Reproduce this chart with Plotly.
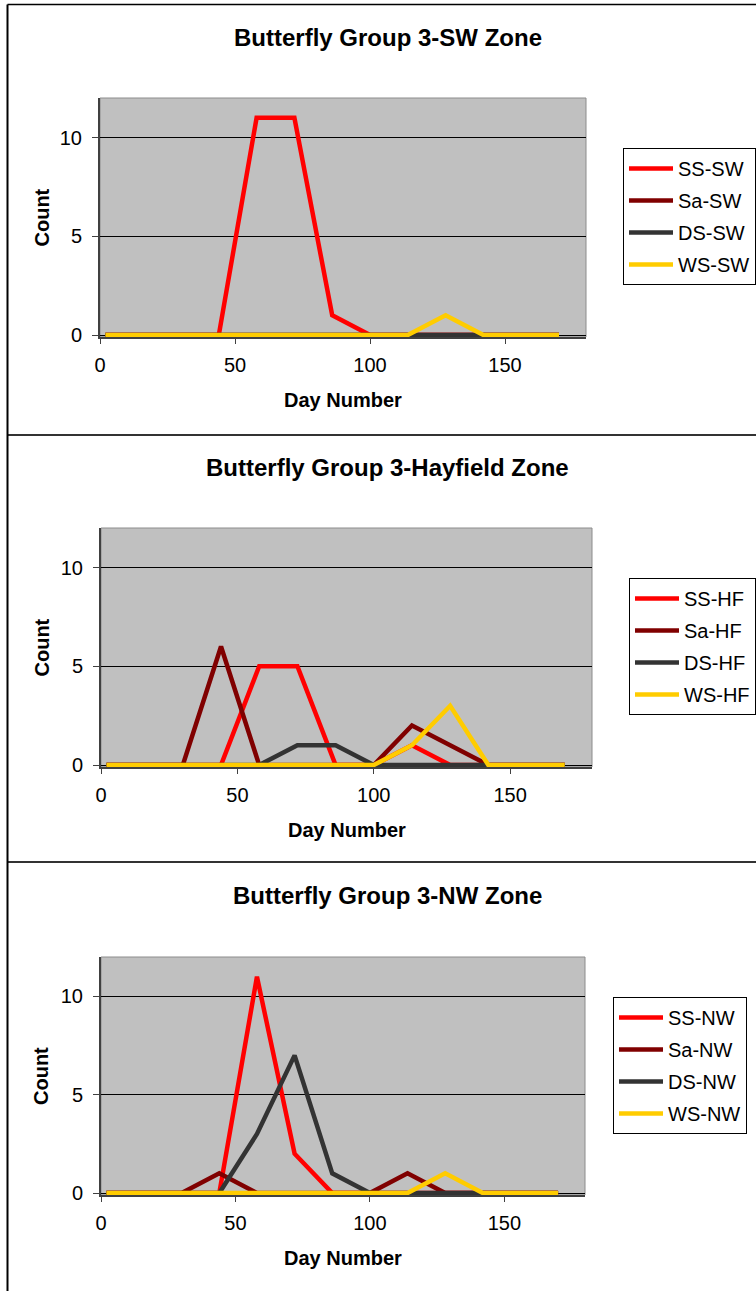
import plotly.graph_objects as go

W, H = 756, 1291

# survey day numbers
days = [2, 16, 30, 44, 58, 72, 86, 100, 114, 128, 142, 156, 170]

# SW zone
ss_sw = [0, 0, 0, 0, 11, 11, 1, 0, 0, 0, 0, 0, 0]
sa_sw = [0, 0, 0, 0, 0, 0, 0, 0, 0, 0, 0, 0, 0]
ds_sw = [0, 0, 0, 0, 0, 0, 0, 0, 0, 0, 0, 0, 0]
ws_sw = [0, 0, 0, 0, 0, 0, 0, 0, 0, 1, 0, 0, 0]

# Hayfield zone
ss_hf = [0, 0, 0, 0, 5, 5, 0, 0, 1, 0, 0, 0, 0]
sa_hf = [0, 0, 0, 6, 0, 0, 0, 0, 2, 1, 0, 0, 0]
ds_hf = [0, 0, 0, 0, 0, 1, 1, 0, 0, 0, 0, 0, 0]
ws_hf = [0, 0, 0, 0, 0, 0, 0, 0, 1, 3, 0, 0, 0]

# NW zone
ss_nw = [0, 0, 0, 0, 11, 2, 0, 0, 0, 0, 0, 0, 0]
sa_nw = [0, 0, 0, 1, 0, 0, 0, 0, 1, 0, 0, 0, 0]
ds_nw = [0, 0, 0, 0, 3, 7, 1, 0, 0, 0, 0, 0, 0]
ws_nw = [0, 0, 0, 0, 0, 0, 0, 0, 0, 1, 0, 0, 0]

titles = ['Butterfly Group 3-SW Zone', 'Butterfly Group 3-Hayfield Zone', 'Butterfly Group 3-NW Zone']
suffixes = ['SW', 'HF', 'NW']
prefixes = ['SS', 'Sa', 'DS', 'WS']
colors = ['#FF0000', '#800000', '#333333', '#FFCC00']
panels = [
    [ss_sw, sa_sw, ds_sw, ws_sw],
    [ss_hf, sa_hf, ds_hf, ws_hf],
    [ss_nw, sa_nw, ds_nw, ws_nw],
]

FONT = 'Liberation Sans, Arial, sans-serif'

# pixel layout of each panel (bottom sits a touch below the zero line so
# the lines along zero are not clipped by the plot area)
plot_lefts = [100, 101, 101]
plot_rights = [586, 592, 585]
plot_tops = [98, 528, 957]
plot_bottoms = [337, 767, 1195]
title_ys = [38, 467, 895]
legend_lefts = [623, 629, 613]
legend_tops = [148, 578, 997]


def px(x):
    return x / W


def py(y):
    return 1 - y / H


fig = go.Figure()

for i, (series, suf) in enumerate(zip(panels, suffixes)):
    n = '' if i == 0 else str(i + 1)
    for pre, vals, col in zip(prefixes, series, colors):
        fig.add_trace(
            go.Scatter(
                x=days, y=vals,
                mode='lines',
                line=dict(color=col, width=4.5),
                name=f'{pre}-{suf}',
                legendgroup=f'{pre}-{suf}',
                legend=f'legend{n}',
                xaxis=f'x{n}', yaxis=f'y{n}',
                cliponaxis=False,
            )
        )

layout = dict(
    width=W, height=H,
    margin=dict(l=0, r=0, t=0, b=0, autoexpand=False),
    paper_bgcolor='white',
    plot_bgcolor='#C0C0C0',
    font=dict(family=FONT, size=20, color='black'),
    showlegend=True,
    annotations=[],
    shapes=[],
)

for i in range(3):
    n = '' if i == 0 else str(i + 1)
    layout[f'xaxis{n}'] = dict(
        domain=[px(plot_lefts[i]), px(plot_rights[i])],
        anchor=f'y{n}',
        range=[0, 180], tick0=0, dtick=50,
        ticks='outside', ticklen=5, tickcolor='#404040',
        showline=True, linecolor='#404040', linewidth=2,
        showgrid=False, zeroline=False,
        layer='below traces',
        ticklabelstandoff=4,
        tickfont=dict(size=20),
    )
    layout[f'yaxis{n}'] = dict(
        domain=[py(plot_bottoms[i]), py(plot_tops[i])],
        anchor=f'x{n}',
        range=[-0.1, 12], tick0=0, dtick=5,
        ticks='outside', ticklen=6, tickcolor='#404040',
        showline=True, linecolor='#404040', linewidth=2,
        showgrid=True, gridcolor='black', gridwidth=1,
        zeroline=False,
        layer='below traces',
        ticklabelstandoff=6,
        tickfont=dict(size=20),
    )
    layout[f'legend{n}'] = dict(
        x=px(legend_lefts[i]), y=py(legend_tops[i]),
        xanchor='left', yanchor='top',
        bordercolor='black', borderwidth=1, bgcolor='white',
        font=dict(family=FONT, size=20),
        itemwidth=44,
        tracegroupgap=3,
    )
    mid_x = (plot_lefts[i] + plot_rights[i]) / 2
    mid_y = (plot_tops[i] + plot_bottoms[i]) / 2
    layout['annotations'] += [
        dict(text=f'<b>{titles[i]}</b>', x=px(387.5), y=py(title_ys[i]),
             xref='paper', yref='paper', showarrow=False,
             font=dict(size=24), xanchor='center', yanchor='middle'),
        dict(text='<b>Day Number</b>', x=px(mid_x), y=py(plot_bottoms[i] + 63),
             xref='paper', yref='paper', showarrow=False,
             font=dict(size=20), xanchor='center', yanchor='middle'),
        dict(text='<b>Count</b>', x=px(41), y=py(mid_y),
             xref='paper', yref='paper', showarrow=False, textangle=-90,
             font=dict(size=20), xanchor='center', yanchor='middle'),
    ]
    # light border around the plot area
    layout['shapes'].append(dict(
        type='rect', xref=f'x{n} domain', yref=f'y{n} domain',
        x0=0, x1=1, y0=0, y1=1,
        line=dict(color='#8C8C8C', width=1), layer='below',
    ))

# chart frames
layout['shapes'].append(dict(
    type='line', xref='paper', yref='paper',
    x0=px(7.5), x1=1, y0=py(4.5), y1=py(4.5),
    line=dict(color='black', width=1.5),
))
for y in [435, 862]:
    layout['shapes'].append(dict(
        type='line', xref='paper', yref='paper',
        x0=px(7.5), x1=1, y0=py(y), y1=py(y),
        line=dict(color='#333333', width=2),
    ))
layout['shapes'].append(dict(
    type='line', xref='paper', yref='paper',
    x0=px(7.5), x1=px(7.5), y0=0, y1=py(4.5),
    line=dict(color='black', width=2),
))

fig.update_layout(**layout)

fig.write_html(
    'out.html',
    config={'displayModeBar': False},
    post_script="document.body.style.margin='0px';",
)
